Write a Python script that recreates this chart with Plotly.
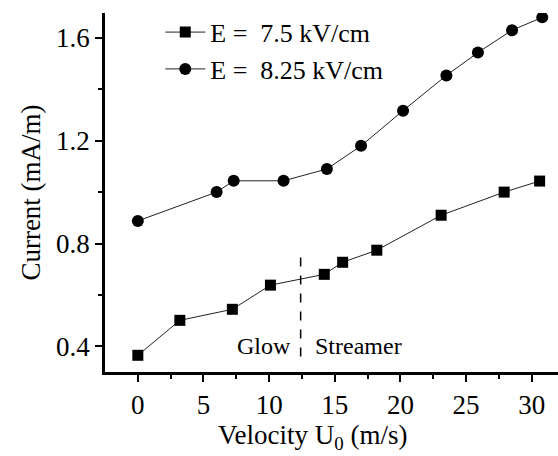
import plotly.graph_objects as go

# Data
u_75 = [0, 3.2, 7.2, 10.1, 14.2, 15.6, 18.2, 23.1, 27.9, 30.6]
i_75 = [0.365, 0.501, 0.544, 0.638, 0.680, 0.727, 0.774, 0.910, 1.000, 1.043]
u_825 = [0, 6.0, 7.3, 11.1, 14.4, 17.0, 20.2, 23.5, 25.9, 28.5, 30.8]
i_825 = [0.888, 1.000, 1.044, 1.044, 1.090, 1.180, 1.317, 1.454, 1.543, 1.630, 1.680]
boundary_x = [12.4, 12.4]
boundary_y = [0.36, 0.775]
name_75 = "E =\u00a0 7.5 kV/cm"
name_825 = "E =\u00a0 8.25 kV/cm"
x_title = "Velocity U<sub>0</sub> (m/s)"
y_title = "Current (mA/m)"

FONT = "Liberation Serif"

fig = go.Figure()
fig.add_trace(go.Scatter(x=u_75, y=i_75, mode="lines+markers", name=name_75,
                         line=dict(color="#222", width=1),
                         marker=dict(symbol="square", size=11, color="black")))
fig.add_trace(go.Scatter(x=u_825, y=i_825, mode="lines+markers", name=name_825,
                         line=dict(color="#222", width=1),
                         marker=dict(symbol="circle", size=12, color="black")))
fig.add_trace(go.Scatter(x=boundary_x, y=boundary_y, mode="lines", showlegend=False,
                         line=dict(color="black", width=1.5, dash="dash")))

fig.add_annotation(x=9.6, y=0.40, text="Glow", showarrow=False,
                   font=dict(family=FONT, size=24, color="black"))
fig.add_annotation(x=16.8, y=0.40, text="Streamer", showarrow=False,
                   font=dict(family=FONT, size=24, color="black"))
# x-axis title (centred as in the reference, slightly left of plot centre)
fig.add_annotation(xref="paper", yref="paper", x=0.457, y=-0.181,
                   xanchor="center", yanchor="middle", text=x_title, showarrow=False,
                   font=dict(family=FONT, size=27, color="black"))

axis_common = dict(showline=True, linecolor="black", linewidth=2.5, ticks="outside",
                   ticklen=7, tickwidth=2, tickcolor="black", showgrid=False,
                   zeroline=False, mirror=False,
                   tickfont=dict(family=FONT, size=27, color="black"),
                   minor=dict(ticks="outside", ticklen=4, tickwidth=2, tickcolor="black"))

fig.update_xaxes(range=[-2.5, 32], tickvals=[0, 5, 10, 15, 20, 25, 30],
                 minor_tickvals=[2.5, 7.5, 12.5, 17.5, 22.5, 27.5],
                 **axis_common)
fig.update_yaxes(range=[0.3, 1.697], tickvals=[0.4, 0.8, 1.2, 1.6],
                 ticktext=["0.4", "0.8", "1.2", "1.6"],
                 minor_tickvals=[0.6, 1.0, 1.4],
                 title=dict(text=y_title, standoff=8,
                            font=dict(family=FONT, size=27, color="black")),
                 **axis_common)

fig.update_layout(width=558, height=456, margin=dict(l=105, r=0, t=13, b=84),
                  paper_bgcolor="white", plot_bgcolor="white",
                  font=dict(family=FONT, color="black"),
                  legend=dict(x=0.122, y=1.012, xanchor="left", yanchor="top",
                              bgcolor="rgba(0,0,0,0)", tracegroupgap=0,
                              font=dict(family=FONT, size=26, color="black"),
                              itemwidth=40))

fig.write_html("out.html")
